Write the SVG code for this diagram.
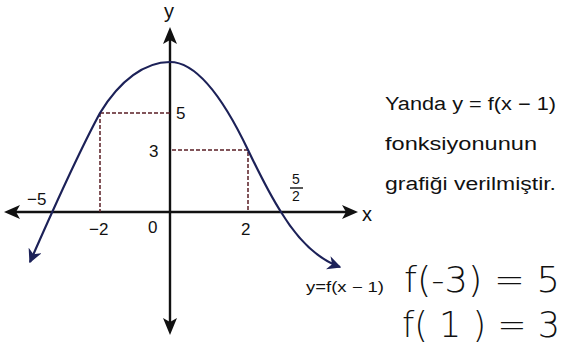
<svg xmlns="http://www.w3.org/2000/svg" width="565" height="363" viewBox="0 0 565 363">
<style>
.ax{stroke:#111;stroke-width:2.4;fill:none}
.ah{fill:#111}
.cv{stroke:#1c2158;stroke-width:2.2;fill:none}
.dh{stroke:#5a1e24;stroke-width:1.5;stroke-dasharray:4 2;fill:none}
.lb{font-family:"Liberation Sans",Arial,sans-serif;font-size:17px;fill:#111}
.tx{font-family:"Liberation Sans",Arial,sans-serif;font-size:18px;fill:#111}
.hw{font-family:"DejaVu Sans",sans-serif;font-size:36px;fill:#111;font-weight:200}
</style>
<defs>
<marker id="ch" viewBox="0 0 10 10" refX="9" refY="5" markerWidth="14" markerHeight="14" orient="auto-start-reverse" markerUnits="userSpaceOnUse">
<path d="M0,0 L10,5 L0,10 L3,5 Z" fill="#1c2158"/>
</marker>
</defs>
<rect width="565" height="363" fill="#fff"/>
<g id="axes">
<line class="ax" x1="10" y1="212" x2="352" y2="212"/>
<path class="ah" d="M358,212 L342,205 L346,212 L342,219 Z"/>
<path class="ah" d="M4,212 L20,205 L16,212 L20,219 Z"/>
<line class="ax" x1="170" y1="34" x2="170" y2="328"/>
<path class="ah" d="M170,27 L163,44 L170,40 L177,44 Z"/>
<path class="ah" d="M170,335 L163,318 L170,322 L177,318 Z"/>
<text class="lb" x="362" y="221" style="font-size:20px">x</text>
<text class="lb" x="164" y="18" style="font-size:20px">y</text>
</g>
<g id="connectors">
<path class="dh" d="M100,113 H170 M100,113 V212"/>
<path class="dh" d="M172,150 H248 V212"/>
</g>
<g id="curve">
<path class="cv" marker-start="url(#ch)" marker-end="url(#ch)" d="M30,262 C55,205 80,150 100,113 C120,80 145,62 170,62 C200,62 228,108 248,150 C260,175 270,195 281,212 C295,235 315,258 340,267"/>
</g>
<g id="labels">
<text class="lb" x="176" y="119">5</text>
<text class="lb" x="149" y="157">3</text>
<text class="lb" x="27" y="205">−5</text>
<text class="lb" x="89" y="235">−2</text>
<text class="lb" x="148" y="233">0</text>
<text class="lb" x="241" y="235">2</text>
<text class="lb" x="292" y="184" style="font-size:14px">5</text>
<line x1="290" y1="188" x2="303" y2="188" stroke="#111" stroke-width="1.4"/>
<text class="lb" x="292" y="201" style="font-size:14px">2</text>
<text class="lb" x="306" y="292" style="font-size:14px" textLength="78" lengthAdjust="spacingAndGlyphs">y=f(x − 1)</text>
</g>
<g id="text">
<text class="tx" x="385" y="110" textLength="171" lengthAdjust="spacingAndGlyphs">Yanda  y = f(x − 1)</text>
<text class="tx" x="385" y="150" textLength="152" lengthAdjust="spacingAndGlyphs">fonksiyonunun</text>
<text class="tx" x="385" y="190" textLength="171" lengthAdjust="spacingAndGlyphs">grafiği verilmiştir.</text>
<text class="hw" x="404" y="292" textLength="156" lengthAdjust="spacingAndGlyphs">f(-3) = 5</text>
<text class="hw" x="402" y="337" textLength="158" lengthAdjust="spacingAndGlyphs">f( 1 ) = 3</text>
</g>
</svg>
